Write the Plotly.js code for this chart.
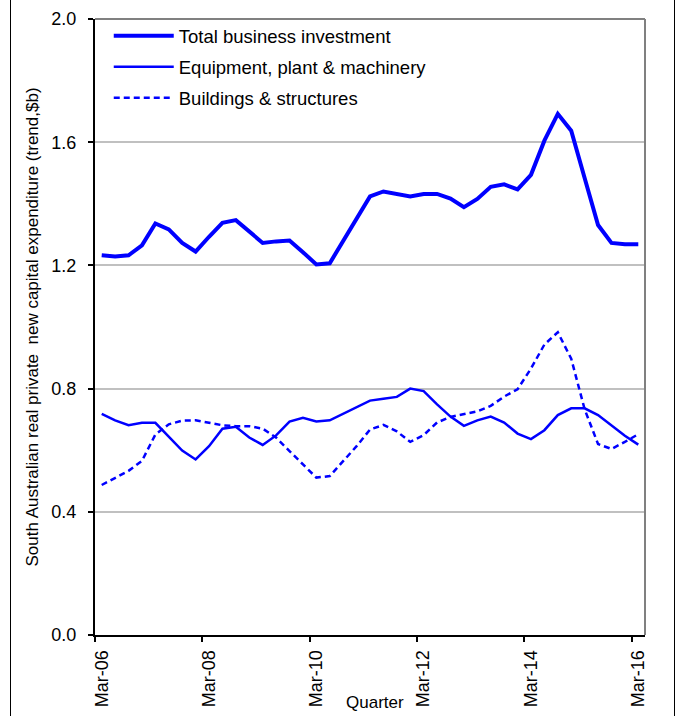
<!DOCTYPE html>
<html>
<head>
<meta charset="utf-8">
<script src="https://cdn.plot.ly/plotly-3.0.1.min.js"></script>
<style>
  html, body { margin: 0; padding: 0; background: #fff; }
  #wrap { position: relative; width: 677px; height: 716px; }
  #chart { width: 677px; height: 716px; }
  .frame { position: absolute; top: 0; bottom: 0; width: 1px; background: #000; pointer-events: none; }
</style>
</head>
<body>
<div id="wrap">
  <div id="chart"></div>
  <div class="frame" style="left:10px"></div>
  <div class="frame" style="left:674px"></div>
</div>
<script>
const quarters = [
  "Mar-06","Jun-06","Sep-06","Dec-06",
  "Mar-07","Jun-07","Sep-07","Dec-07",
  "Mar-08","Jun-08","Sep-08","Dec-08",
  "Mar-09","Jun-09","Sep-09","Dec-09",
  "Mar-10","Jun-10","Sep-10","Dec-10",
  "Mar-11","Jun-11","Sep-11","Dec-11",
  "Mar-12","Jun-12","Sep-12","Dec-12",
  "Mar-13","Jun-13","Sep-13","Dec-13",
  "Mar-14","Jun-14","Sep-14","Dec-14",
  "Mar-15","Jun-15","Sep-15","Dec-15",
  "Mar-16"
];

const totalBusiness = [1.233,1.229,1.233,1.265,1.336,1.317,1.273,1.245,1.293,1.338,1.347,1.311,1.273,1.278,1.281,1.243,1.203,1.207,1.281,1.354,1.424,1.440,1.433,1.424,1.432,1.432,1.417,1.389,1.416,1.455,1.463,1.447,1.494,1.605,1.692,1.637,1.484,1.331,1.273,1.269,1.269];

const equipment = [0.718,0.697,0.681,0.689,0.689,0.644,0.599,0.570,0.613,0.670,0.676,0.641,0.617,0.648,0.693,0.705,0.693,0.697,0.719,0.741,0.761,0.767,0.773,0.800,0.792,0.749,0.709,0.679,0.697,0.709,0.690,0.654,0.636,0.665,0.714,0.736,0.736,0.714,0.679,0.647,0.618];

const buildings = [0.487,0.511,0.533,0.565,0.651,0.684,0.696,0.697,0.689,0.681,0.678,0.678,0.670,0.641,0.597,0.554,0.511,0.516,0.565,0.613,0.667,0.682,0.661,0.627,0.649,0.690,0.708,0.717,0.726,0.744,0.774,0.798,0.865,0.943,0.983,0.897,0.733,0.620,0.604,0.627,0.652];

const tickLabels = ["Mar-06","Mar-08","Mar-10","Mar-12","Mar-14","Mar-16"];
const yTicks = [0, 0.4, 0.8, 1.2, 1.6, 2.0];

const seriesNames = ["Total business investment", "Equipment, plant & machinery", "Buildings & structures"];

// category positions (index of each quarter)
const xIdx = quarters.map((q, i) => i);
// labels centred on their quarter, tick marks on the boundary before it
const labelPos = tickLabels.map(l => quarters.indexOf(l));
const tickPos = labelPos.map(p => p - 0.5);

const FONT = "Arial, 'Liberation Sans', sans-serif";
const FS = 18;
const BLUE = "#0000ff";

const traces = [
  {x: xIdx, y: totalBusiness, type: "scatter", mode: "lines", name: seriesNames[0],
   line: {color: BLUE, width: 4}, legendgroup: "a", customdata: quarters,
   hovertemplate: "%{customdata}: %{y}<extra></extra>"},
  {x: xIdx, y: equipment, type: "scatter", mode: "lines", name: seriesNames[1],
   line: {color: BLUE, width: 2.5}, legendgroup: "b", customdata: quarters,
   hovertemplate: "%{customdata}: %{y}<extra></extra>"},
  {x: xIdx, y: buildings, type: "scatter", mode: "lines", name: seriesNames[2],
   line: {color: BLUE, width: 2.5, dash: "6px,4px"}, legendgroup: "c", customdata: quarters,
   hovertemplate: "%{customdata}: %{y}<extra></extra>"},
  // invisible companion trace so the boundary tick-mark axis (x2) is drawn
  {x: xIdx, y: totalBusiness, xaxis: "x2", yaxis: "y", type: "scatter", mode: "lines",
   line: {color: "rgba(0,0,0,0)", width: 0}, opacity: 0, showlegend: false, hoverinfo: "skip"}
];

const xRange = [-0.5, quarters.length - 0.5];

const layout = {
  width: 677, height: 716,
  margin: {l: 94.5, r: 32, t: 19, b: 80.5, pad: 0},
  paper_bgcolor: "#ffffff",
  plot_bgcolor: "#ffffff",
  font: {family: FONT, size: FS, color: "#000"},
  showlegend: true,
  legend: {
    x: 0.025, y: 1.003, xanchor: "left", yanchor: "top",
    bgcolor: "rgba(255,255,255,0)", borderwidth: 0,
    font: {family: FONT, size: 18.5, color: "#000"},
    traceorder: "grouped", tracegroupgap: 4, itemwidth: 60
  },
  xaxis: {
    range: xRange,
    tickmode: "array", tickvals: labelPos, ticktext: tickLabels,
    tickangle: -90,
    ticks: "outside", ticklen: 6, tickwidth: 2, tickcolor: "rgba(0,0,0,0)",
    showline: true, linecolor: "#000", linewidth: 2,
    showgrid: false, zeroline: false,
    tickfont: {family: FONT, size: FS, color: "#000"}
  },
  xaxis2: {
    overlaying: "x", anchor: "y", side: "bottom",
    range: xRange,
    tickmode: "array", tickvals: tickPos, showticklabels: false,
    ticks: "outside", ticklen: 6, tickwidth: 2, tickcolor: "#000",
    showline: false, showgrid: false, zeroline: false
  },
  yaxis: {
    range: [0, 2],
    tickmode: "array", tickvals: yTicks, tickformat: ".1f",
    ticks: "outside", ticklen: 5, tickwidth: 2, tickcolor: "#000",
    ticklabelstandoff: 8,
    showline: true, linecolor: "#000", linewidth: 2,
    showgrid: true, gridcolor: "#c0c0c0", gridwidth: 2,
    zeroline: false,
    tickfont: {family: FONT, size: FS, color: "#000"},
    title: {text: "South Australian real private  new capital expenditure (trend,$b)",
            font: {family: FONT, size: 17, color: "#000"}, standoff: 8}
  },
  shapes: [
    {type: "line", xref: "paper", yref: "paper", x0: 0, x1: 1, y0: 1, y1: 1,
     line: {color: "#808080", width: 2}},
    {type: "line", xref: "paper", yref: "paper", x0: 1, x1: 1, y0: 0, y1: 1,
     line: {color: "#808080", width: 2}}
  ],
  annotations: [
    {text: "Quarter", xref: "paper", yref: "paper", x: 0.5095, y: -0.1095,
     xanchor: "center", yanchor: "middle", showarrow: false,
     font: {family: FONT, size: 17, color: "#000"}}
  ]
};

Plotly.newPlot("chart", traces, layout, {staticPlot: true, displayModeBar: false});
</script>
</body>
</html>
